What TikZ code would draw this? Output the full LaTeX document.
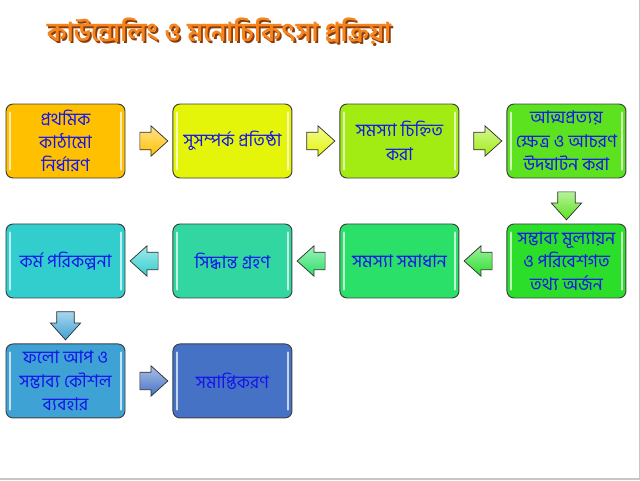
\documentclass[tikz,border=0pt]{standalone}
\usepackage{fontspec}
\newfontfamily\bnfont[Script=Bengali]{Hind Siliguri}
\usetikzlibrary{positioning,calc,shapes.arrows}
\definecolor{framecol}{RGB}{64,64,64}
\definecolor{textblue}{RGB}{20,20,235}
\definecolor{titleorange}{RGB}{246,132,28}
\definecolor{titleshade}{RGB}{140,60,10}
\definecolor{stepA}{RGB}{255,192,0}
\definecolor{stepB}{RGB}{228,245,10}
\definecolor{stepC}{RGB}{162,236,20}
\definecolor{stepD}{RGB}{92,226,30}
\definecolor{stepE}{RGB}{42,222,42}
\definecolor{stepF}{RGB}{42,224,104}
\definecolor{stepG}{RGB}{50,214,160}
\definecolor{stepH}{RGB}{50,206,206}
\definecolor{stepI}{RGB}{62,162,212}
\definecolor{stepJ}{RGB}{70,114,198}

\begin{document}
\begin{tikzpicture}[
    box/.style={draw=framecol, line width=0.7pt, rounded corners=5pt,
      minimum width=2.975cm, minimum height=1.85cm, inner sep=2pt,
      align=center, text=textblue,
      font=\bnfont\fontsize{12.5}{16.5}\selectfont,
      path picture={
        \draw[white, opacity=0.7, line width=1.6pt, line cap=round]
          ([shift={(3pt,-6pt)}]path picture bounding box.north west) --
          ([shift={(3pt,6pt)}]path picture bounding box.south west)
          ([shift={(-3pt,-6pt)}]path picture bounding box.north east) --
          ([shift={(-3pt,6pt)}]path picture bounding box.south east);
      }},
    flow/.style={single arrow, draw=gray!35!black, line width=0.5pt,
      minimum height=0.7cm, minimum width=0.75cm, inner sep=0.21cm,
      single arrow head extend=0.16cm, single arrow tip angle=84}
  ]
  \useasboundingbox (0,0) rectangle (16,-12);
  % slide edge
  \fill[gray!45] (15.965,0) rectangle (16,-12);
  \fill[gray!45] (0,-11.95) rectangle (16,-12);

  % Title
  \node[font=\bnfont\bfseries\fontsize{18.5}{22}\selectfont, text=titleshade]
    (titleshadow) at (5.52,-0.82) {কাউন্সেলিং ও মনোচিকিৎসা প্রক্রিয়া};
  \node[font=\bnfont\bfseries\fontsize{18.5}{22}\selectfont, text=titleorange]
    (title) at (5.475,-0.775) {কাউন্সেলিং ও মনোচিকিৎসা প্রক্রিয়া};

  % Row 1
  \node[box, fill=stepA] (b1) at (1.6375,-3.525) {প্রথমিক\\কাঠামো\\নির্ধারণ};
  \node[box, fill=stepB, right=1.175cm of b1] (b2) {সুসম্পর্ক প্রতিষ্ঠা};
  \node[box, fill=stepC, right=1.175cm of b2] (b3) {সমস্যা চিহ্নিত\\করা};
  \node[box, fill=stepD, right=1.175cm of b3] (b4) {আত্মপ্রত্যয়\\ক্ষেত্র ও আচরণ\\উদঘাটন করা};
  % Row 2
  \node[box, fill=stepE, below=1.125cm of b4] (b5) {সম্ভাব্য মূল্যায়ন\\ও পরিবেশগত\\তথ্য অর্জন};
  \node[box, fill=stepF, left=1.175cm of b5] (b6) {সমস্যা সমাধান};
  \node[box, fill=stepG, left=1.175cm of b6] (b7) {সিদ্ধান্ত গ্রহণ};
  \node[box, fill=stepH, left=1.175cm of b7] (b8) {কর্ম পরিকল্পনা};
  % Row 3
  \node[box, fill=stepI, below=1.125cm of b8] (b9) {ফলো আপ ও\\সম্ভাব্য কৌশল\\ব্যবহার};
  \node[box, fill=stepJ, right=1.175cm of b9] (b10) {সমাপ্তিকরণ};

  % Arrows
  \foreach \a/\b/\c/\r [count=\i] in {b1/b2/stepA/0, b2/b3/stepB/0, b3/b4/stepC/0,
      b4/b5/stepD/-90, b5/b6/stepE/180, b6/b7/stepF/180, b7/b8/stepH/180,
      b8/b9/stepI/-90, b9/b10/stepJ/0}
    \node[flow, top color=\c!45!white, bottom color=\c, rotate=\r]
      (ar\i) at ($(\a)!0.5!(\b)$) {};
\end{tikzpicture}
\end{document}
